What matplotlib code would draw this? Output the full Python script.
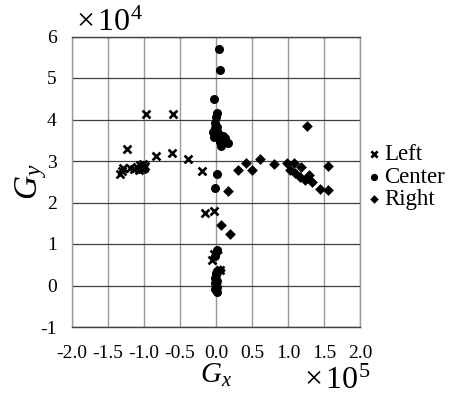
import matplotlib
matplotlib.use("Agg")
import matplotlib.pyplot as plt

plt.rcParams['font.family'] = 'serif'
plt.rcParams['font.serif'] = ['Liberation Serif', 'DejaVu Serif']
plt.rcParams['mathtext.fontset'] = 'custom'
plt.rcParams['mathtext.it'] = 'Liberation Serif:italic'
plt.rcParams['mathtext.rm'] = 'Liberation Serif'
plt.rcParams['mathtext.default'] = 'it'

# Gx in units of 1e5, Gy in units of 1e4
left_x = [-0.97, -0.60, -1.23, -0.84, -0.61, -0.39, -0.19, -1.10, -1.05, -1.02, -0.99, -1.07,
          -1.03, -1.00, -1.33, -1.30, -1.29, -1.19, -1.14, -0.15, -0.03, -0.03, -0.06, 0.06]
left_y = [4.13, 4.13, 3.28, 3.12, 3.19, 3.04, 2.75, 2.85, 2.90, 2.93, 2.88, 2.78,
          2.80, 2.82, 2.68, 2.75, 2.82, 2.83, 2.80, 1.75, 1.80, 0.77, 0.61, 0.37]

center_x = [0.045, 0.05, -0.03, 0.01, 0.00, -0.01, -0.04, -0.03, 0.05, 0.13, 0.16, 0.07, 0.03,
            0.02, -0.02, 0.10, 0.12, 0.06, 0.02, -0.02, 0.02, -0.02, 0.01, 0.00, -0.01,
            0.02, -0.02, 0.00, 0.01, -0.01, 0.00, 0.01, 0.00]
center_y = [5.70, 5.20, 4.50, 4.15, 4.05, 3.91, 3.71, 3.59, 3.51, 3.55, 3.44, 3.36, 3.67,
            3.83, 3.80, 3.60, 3.50, 3.45, 2.69, 2.36, 0.85, 0.70, 0.35, 0.25, 0.18,
            0.12, 0.05, 0.00, -0.04, -0.08, -0.12, -0.15, 0.30]

right_x = [1.27, 0.61, 0.42, 0.30, 0.50, 0.81, 1.56, 0.99, 1.08, 1.18, 1.03, 1.10, 1.17,
           1.29, 1.24, 1.34, 1.45, 1.55, 0.17, 0.07, 0.19, 0.02, 0.06]
right_y = [3.84, 3.06, 2.96, 2.78, 2.78, 2.93, 2.88, 2.94, 2.96, 2.85, 2.78, 2.70, 2.62,
           2.66, 2.54, 2.50, 2.32, 2.30, 2.28, 1.45, 1.23, 0.81, 0.37]

x_ticks = [-2.0, -1.5, -1.0, -0.5, 0.0, 0.5, 1.0, 1.5, 2.0]
y_ticks = [-1, 0, 1, 2, 3, 4, 5, 6]

fig = plt.figure(figsize=(4.54, 3.96), dpi=100)
ax = fig.add_axes([72/454, 1-327/396, 288/454, 290.5/396])

ax.scatter(left_x, left_y, marker='x', s=32, c='black', linewidths=1.9, label='Left', zorder=3)
ax.scatter(center_x, center_y, marker='o', s=42, c='black', linewidths=0, label='Center', zorder=3)
ax.scatter(right_x, right_y, marker='D', s=30, c='black', linewidths=0, label='Right', zorder=3)

ax.set_xlim(-2.0, 2.0)
ax.set_ylim(-1, 6)
ax.set_xticks(x_ticks)
ax.set_yticks(y_ticks)
ax.set_xticklabels([f"{v:.1f}" for v in x_ticks])
ax.set_yticklabels([str(v) for v in y_ticks])
ax.tick_params(length=0, labelsize=14)
ax.tick_params(axis='y', pad=11)
ax.tick_params(axis='x', pad=13)
for v in x_ticks:
    ax.axvline(v, color='#9a9a9a', lw=1.0, zorder=1)
for v in y_ticks:
    ax.axhline(v, color='#404040', lw=0.9, zorder=1)
for s in ax.spines.values():
    s.set_color('#9a9a9a')
    s.set_linewidth(1.0)
ax.spines['bottom'].set_color('#404040')
ax.spines['top'].set_color('#404040')

ax.set_xlabel(r'$G_x$', fontsize=21, labelpad=0)
ax.set_ylabel(r'$G_y$', fontsize=24, labelpad=-6)
fig.text(76/454, 1-31/396, r'$\mathrm{\times\,10^4}$', fontsize=23, ha='left', va='baseline')
fig.text(304/454, 1-389/396, r'$\mathrm{\times\,10^5}$', fontsize=23, ha='left', va='baseline')

leg = fig.legend(*ax.get_legend_handles_labels(), loc='center left',
                 bbox_to_anchor=(365/454, 1-177/396), frameon=False, fontsize=16.5,
                 handletextpad=0.05, labelspacing=0.07, handlelength=0.8, markerscale=0.8,
                 borderpad=0, borderaxespad=0)

fig.savefig('out.png', dpi=100)
